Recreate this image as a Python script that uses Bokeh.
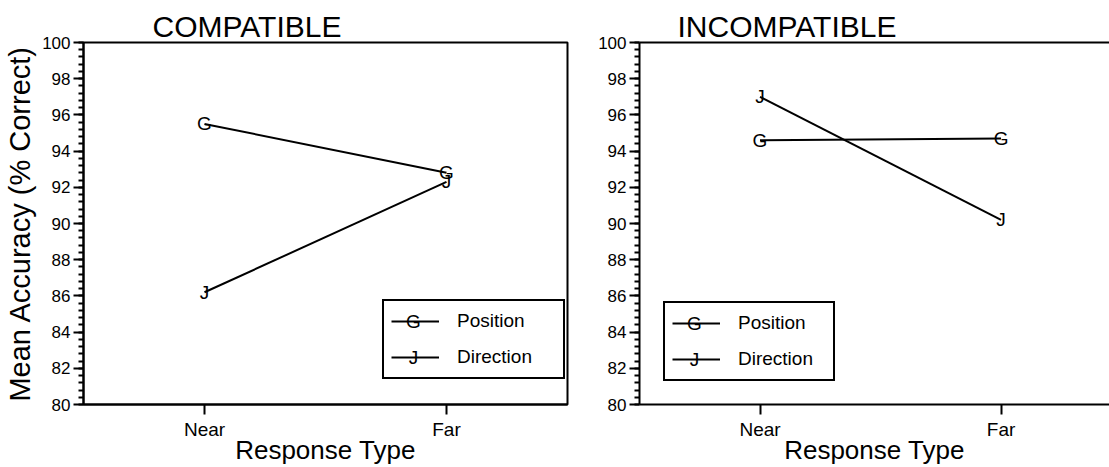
from bokeh.plotting import figure
from bokeh.models import (Range1d, FixedTicker, SingleIntervalTicker, Legend, LegendItem,
                          Label, LinearAxis, ColumnDataSource)
from bokeh.layouts import row
from bokeh.embed import file_html
from bokeh.resources import INLINE
from bokeh.core.properties import value

# ---- data ---------------------------------------------------------------
response_types = ["Near", "Far"]
series_names = ["Position", "Direction"]
series_symbols = ["G", "J"]

compatible_position = [95.5, 92.8]
compatible_direction = [86.2, 92.3]
incompatible_position = [94.6, 94.7]
incompatible_direction = [97.0, 90.2]

y_ticks = [80, 82, 84, 86, 88, 90, 92, 94, 96, 98, 100]

FONT = "Liberation Sans"
x_pos = list(range(1, len(response_types) + 1))

# legend box geometry (pixels)
LEG_PAD = 7
LEG_GLYPH_W = 48
LEG_ROW_H = 26
LEG_SPACING = 10
LEG_H = 2 * LEG_PAD + 2 * LEG_ROW_H + LEG_SPACING


def build_panel(title_text, position_vals, direction_vals, *, width, x_end,
                min_left, min_right, title_offset, legend_xy, legend_label_width,
                y_label, boxed):
    p = figure(width=width, height=467,
               x_range=Range1d(x_pos[0] - 0.5, x_end),
               y_range=Range1d(y_ticks[0], y_ticks[-1]),
               output_backend="svg", toolbar_location=None,
               min_border_left=min_left, min_border_right=min_right,
               min_border_top=42, min_border_bottom=63,
               background_fill_color="white", border_fill_color="white")

    p.xgrid.grid_line_color = None
    p.ygrid.grid_line_color = None

    xa = p.below[0]
    ya = p.left[0]

    if boxed:
        p.outline_line_color = "black"
        p.outline_line_width = 2
        p.outline_line_alpha = 1
    else:
        # open on the right: only a top rule above the frame
        p.outline_line_color = None
        top = LinearAxis(ticker=FixedTicker(ticks=[]), axis_line_color="black",
                         axis_line_width=2, major_tick_line_color=None,
                         minor_tick_line_color=None, major_label_standoff=0,
                         major_tick_out=0, major_tick_in=0)
        p.add_layout(top, "above")

    # title
    p.title.text = title_text
    p.title.align = "left"
    p.title.offset = title_offset
    p.title.standoff = 0
    p.title.text_font = FONT
    p.title.text_font_size = "30px"
    p.title.text_font_style = "normal"
    p.title.text_color = "black"

    # axes
    for ax in (xa, ya):
        ax.axis_line_color = "black"
        ax.axis_line_width = 2
        ax.major_tick_line_color = "black"
        ax.major_tick_line_width = 2
        ax.major_tick_in = 0
        ax.major_tick_out = 10
        ax.major_label_text_font = FONT
        ax.major_label_text_color = "black"

    xa.ticker = FixedTicker(ticks=x_pos)
    xa.major_label_overrides = {x: name for x, name in zip(x_pos, response_types)}
    xa.minor_tick_line_color = None
    xa.major_label_text_font_size = "19px"
    xa.major_label_standoff = 4
    xa.axis_label = "Response Type"
    xa.axis_label_text_font = FONT
    xa.axis_label_text_font_size = "26px"
    xa.axis_label_text_font_style = "normal"
    xa.axis_label_text_color = "black"
    xa.axis_label_text_baseline = "middle"
    xa.axis_label_standoff = -8

    ya.ticker = SingleIntervalTicker(interval=2, num_minor_ticks=5)
    ya.minor_tick_line_color = "black"
    ya.minor_tick_line_width = 2
    ya.minor_tick_in = 0
    ya.minor_tick_out = 5
    ya.major_label_text_font_size = "17px"
    ya.major_label_standoff = 3
    if y_label:
        ya.axis_label = y_label
        ya.axis_label_text_font = FONT
        ya.axis_label_text_font_size = "29px"
        ya.axis_label_text_font_style = "normal"
        ya.axis_label_text_color = "black"
        ya.axis_label_standoff = 3

    # series: line with a letter marker at every point
    renderers = []
    for vals, sym in zip((position_vals, direction_vals), series_symbols):
        r = p.line(x_pos, vals, line_color="black", line_width=2)
        src = ColumnDataSource(dict(x=x_pos, y=vals, sym=[sym] * len(vals)))
        p.text(x="x", y="y", text="sym", source=src,
               text_font=value(FONT), text_font_size="19px",
               text_align="center", text_baseline="middle", text_color="black")
        renderers.append(r)

    legend = Legend(
        items=[LegendItem(label=n, renderers=[r]) for n, r in zip(series_names, renderers)],
        location=legend_xy,
        border_line_color="black", border_line_width=2, border_line_alpha=1,
        background_fill_alpha=0,
        padding=LEG_PAD, spacing=LEG_SPACING, margin=0,
        glyph_width=LEG_GLYPH_W, glyph_height=LEG_ROW_H, label_height=LEG_ROW_H,
        label_width=legend_label_width, label_standoff=18,
        label_text_font=FONT, label_text_font_size="19px", label_text_color="black",
        label_text_baseline="middle",
    )
    p.add_layout(legend)

    # letter markers on the legend's line samples
    lx, ly = legend_xy
    for i, sym in enumerate(series_symbols):
        cy = ly + LEG_H - LEG_PAD - LEG_ROW_H / 2 - i * (LEG_ROW_H + LEG_SPACING)
        p.add_layout(Label(x=lx + LEG_PAD + LEG_GLYPH_W / 2, y=cy + 2,
                           x_units="screen", y_units="screen", text=sym,
                           text_font=FONT, text_font_size="19px", text_color="black",
                           text_align="center", text_baseline="middle"))
    return p


left = build_panel("COMPATIBLE", compatible_position, compatible_direction,
                   width=595, x_end=x_pos[-1] + 0.5, min_left=83, min_right=28,
                   title_offset=69, legend_xy=(299, 25), legend_label_width=99,
                   y_label="Mean Accuracy (% Correct)", boxed=True)

right = build_panel("INCOMPATIBLE", incompatible_position, incompatible_direction,
                    width=514, x_end=x_pos[-1] + 0.45, min_left=42, min_right=0,
                    title_offset=38, legend_xy=(24, 23), legend_label_width=88,
                    y_label=None, boxed=False)

layout = row(left, right)
open("out.html", "w").write(file_html(layout, INLINE))
